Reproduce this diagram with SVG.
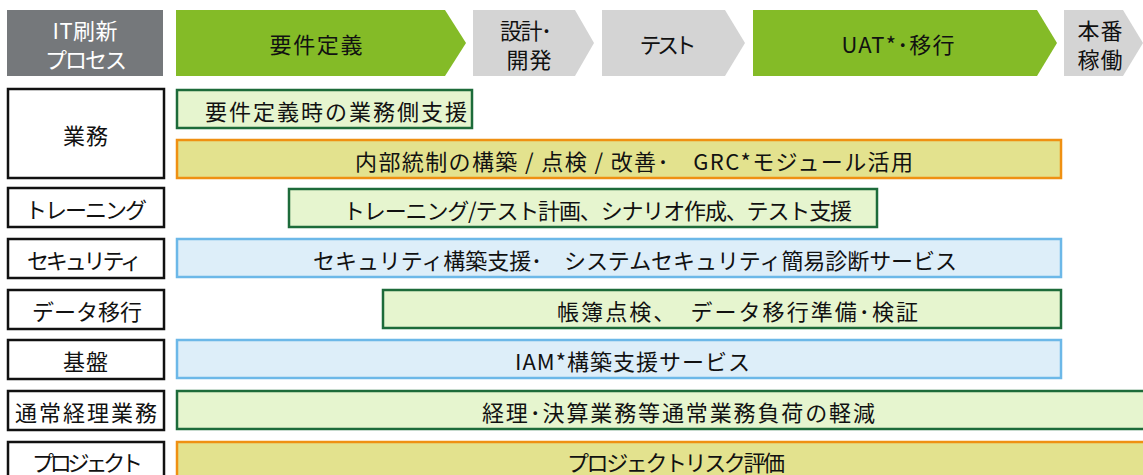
<svg xmlns="http://www.w3.org/2000/svg" width="1143" height="475" viewBox="0 0 1143 475">
<style>
text{font-family:"Noto Sans CJK JP","Noto Sans",sans-serif;font-size:22px;fill:#111;text-anchor:middle;dominant-baseline:central;white-space:pre}
.wt{fill:#fff}
.lbl{fill:#fff;stroke:#111;stroke-width:2.5}
.g{fill:#e6f5cf;stroke:#1d6b3a;stroke-width:2.5}
.o{fill:#e3e28e;stroke:#ef9012;stroke-width:2.5}
.b{fill:#ddeef9;stroke:#6cb8e8;stroke-width:2.5}
.pg{fill:#84bb27}
.pl{fill:#d4d4d4}
</style>
<g id="header">
<g id="h-it"><rect x="7" y="10" width="156" height="66" fill="#75787b"/><text class="wt" x="85" y="29" textLength="65" lengthAdjust="spacing">IT刷新</text><text class="wt" x="86" y="58" textLength="82" lengthAdjust="spacing">プロセス</text></g>
<g id="h-req"><polygon class="pg" points="176,10 445,10 466,43 445,76 176,76"/><text x="316" y="43" textLength="93" lengthAdjust="spacing">要件定義</text></g>
<g id="h-dev"><polygon class="pl" points="473,10 575,10 594,43 575,76 473,76"/><text x="526" y="29" textLength="52" lengthAdjust="spacing">設計･</text><text x="529" y="58" textLength="45" lengthAdjust="spacing">開発</text></g>
<g id="h-test"><polygon class="pl" points="602,10 725,10 745,43 725,76 602,76"/><text x="668" y="43" textLength="57" lengthAdjust="spacing">テスト</text></g>
<g id="h-uat"><polygon class="pg" points="753,10 1037,10 1057,43 1037,76 753,76"/><text x="898" y="43" textLength="113" lengthAdjust="spacing">UAT*･移行</text></g>
<g id="h-prod"><polygon class="pl" points="1064,10 1123,10 1143,43 1123,76 1064,76"/><text x="1100" y="29" textLength="45" lengthAdjust="spacing">本番</text><text x="1100" y="58" textLength="45" lengthAdjust="spacing">稼働</text></g>
</g>
<g id="labels">
<g id="l-gyomu"><rect class="lbl" x="8" y="89" width="156" height="89"/><text x="85.5" y="134" textLength="45" lengthAdjust="spacing">業務</text></g>
<g id="l-training"><rect class="lbl" x="8" y="188" width="156" height="39"/><text x="86" y="208" textLength="122" lengthAdjust="spacing">トレーニング</text></g>
<g id="l-security"><rect class="lbl" x="8" y="239" width="156" height="39"/><text x="84.5" y="259" textLength="115" lengthAdjust="spacing">セキュリティ</text></g>
<g id="l-data"><rect class="lbl" x="8" y="290" width="156" height="39"/><text x="87" y="310" textLength="110" lengthAdjust="spacing">データ移行</text></g>
<g id="l-infra"><rect class="lbl" x="8" y="340" width="156" height="39"/><text x="85.5" y="360" textLength="45" lengthAdjust="spacing">基盤</text></g>
<g id="l-keiri"><rect class="lbl" x="8" y="391" width="156" height="39"/><text x="86" y="411" textLength="142" lengthAdjust="spacing">通常経理業務</text></g>
<g id="l-project"><rect class="lbl" x="8" y="442" width="156" height="45"/><text x="87.5" y="461" textLength="111" lengthAdjust="spacing">プロジェクト</text></g>
</g>
<g id="bars">
<g id="b-req"><rect class="g" x="177" y="90" width="295" height="38"/><text x="336" y="110" textLength="262" lengthAdjust="spacing">要件定義時の業務側支援</text></g>
<g id="b-naibu"><rect class="o" x="177" y="140" width="884" height="38"/><text x="634" y="160" textLength="558" lengthAdjust="spacing">内部統制の構築 / 点検 / 改善･　GRC*モジュール活用</text></g>
<g id="b-training"><rect class="g" x="289" y="189" width="588" height="38"/><text x="597.5" y="209" textLength="509" lengthAdjust="spacing">トレーニング/テスト計画、シナリオ作成、テスト支援</text></g>
<g id="b-security"><rect class="b" x="177" y="239" width="884" height="38"/><text x="635" y="259" textLength="644" lengthAdjust="spacing">セキュリティ構築支援･　システムセキュリティ簡易診断サービス</text></g>
<g id="b-data"><rect class="g" x="383" y="290" width="678" height="38"/><text x="737.5" y="310" textLength="361" lengthAdjust="spacing">帳簿点検、　データ移行準備･検証</text></g>
<g id="b-iam"><rect class="b" x="177" y="340" width="884" height="38"/><text x="632.5" y="360" textLength="235" lengthAdjust="spacing">IAM*構築支援サービス</text></g>
<g id="b-keiri"><rect class="g" x="177" y="391" width="980" height="38"/><text x="678.5" y="411" textLength="393" lengthAdjust="spacing">経理･決算業務等通常業務負荷の軽減</text></g>
<g id="b-project"><rect class="o" x="177" y="442" width="980" height="45"/><text x="676" y="461" textLength="218" lengthAdjust="spacing">プロジェクトリスク評価</text></g>
</g>
<g id="connectors"/>
</svg>
